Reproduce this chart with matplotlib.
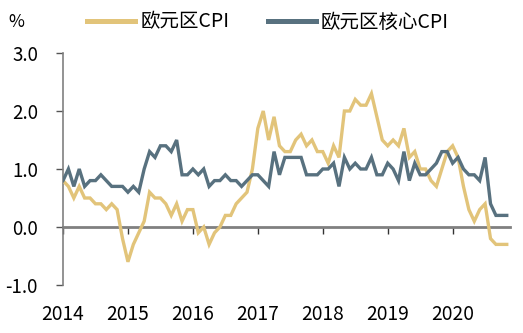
import matplotlib
matplotlib.use("Agg")
import matplotlib.pyplot as plt
import numpy as np
from matplotlib.lines import Line2D

plt.rcParams['font.family'] = ['Noto Sans CJK SC', 'DejaVu Sans']

years = ["2014", "2015", "2016", "2017", "2018", "2019", "2020"]
series_names = ["欧元区CPI", "欧元区核心CPI"]

# monthly values, Jan 2014 - Nov 2020
cpi = [0.8, 0.7, 0.5, 0.7, 0.5, 0.5, 0.4, 0.4, 0.3, 0.4, 0.3, -0.2,
       -0.6, -0.3, -0.1, 0.1, 0.6, 0.5, 0.5, 0.4, 0.2, 0.4, 0.1, 0.3,
       0.3, -0.1, 0.0, -0.3, -0.1, 0.0, 0.2, 0.2, 0.4, 0.5, 0.6, 1.0,
       1.7, 2.0, 1.5, 1.9, 1.4, 1.3, 1.3, 1.5, 1.6, 1.4, 1.5, 1.3,
       1.3, 1.1, 1.4, 1.2, 2.0, 2.0, 2.2, 2.1, 2.1, 2.3, 1.9, 1.5,
       1.4, 1.5, 1.4, 1.7, 1.2, 1.3, 1.0, 1.0, 0.8, 0.7, 1.0, 1.3,
       1.4, 1.2, 0.7, 0.3, 0.1, 0.3, 0.4, -0.2, -0.3, -0.3, -0.3]
core = [0.8, 1.0, 0.7, 1.0, 0.7, 0.8, 0.8, 0.9, 0.8, 0.7, 0.7, 0.7,
        0.6, 0.7, 0.6, 1.0, 1.3, 1.2, 1.4, 1.4, 1.3, 1.5, 0.9, 0.9,
        1.0, 0.9, 1.0, 0.7, 0.8, 0.8, 0.9, 0.8, 0.8, 0.7, 0.8, 0.9,
        0.9, 0.8, 0.7, 1.3, 0.9, 1.2, 1.2, 1.2, 1.2, 0.9, 0.9, 0.9,
        1.0, 1.0, 1.1, 0.7, 1.2, 1.0, 1.1, 1.0, 1.0, 1.2, 0.9, 0.9,
        1.1, 1.0, 0.8, 1.3, 0.8, 1.1, 0.9, 0.9, 1.0, 1.1, 1.3, 1.3,
        1.1, 1.2, 1.0, 0.9, 0.9, 0.8, 1.2, 0.4, 0.2, 0.2, 0.2]

gold = '#E2C47A'
blue = '#58717F'

fig = plt.figure(figsize=(5.23, 3.33), dpi=100)
ax = fig.add_axes([63/523, 1-285/333, (510-63)/523, 232/333])

x = np.arange(len(cpi))
ax.plot(x, cpi, color=gold, lw=2.4, solid_joinstyle='miter', zorder=3)
ax.plot(x, core, color=blue, lw=2.4, solid_joinstyle='miter', zorder=4)

ax.set_ylim(-1, 3)
ax.set_xlim(0, 82.6)
ax.set_yticks([-1, 0, 1, 2, 3])
ax.set_yticklabels(["-1.0", "0.0", "1.0", "2.0", "3.0"])

year_ticks = [12*i for i in range(len(years))]
ax.set_xticks(year_ticks)
ax.set_xticklabels(years)
ax.tick_params(axis='x', length=0, pad=13.5, labelsize=13.8)
ax.tick_params(axis='y', length=5, width=1, color='#555555', pad=13, labelsize=13.5, direction='out')

for s in ['top', 'right', 'bottom']:
    ax.spines[s].set_visible(False)
ax.spines['left'].set_color('#808080')
ax.spines['left'].set_linewidth(1.2)

sec = ax.secondary_xaxis(0.25)
sec.set_xticks(year_ticks)
sec.tick_params(direction='out', length=5, width=1, color='#333333', labelbottom=False)
sec.spines['bottom'].set_color('#808080')
sec.spines['bottom'].set_linewidth(2)

fig.text(8/523, 1-22/333, "%", fontsize=12.5, va='center', ha='left')

handles = [Line2D([], [], color=gold, lw=3.6), Line2D([], [], color=blue, lw=3.6)]
fig.legend(handles, series_names, loc='center left', bbox_to_anchor=(87/523, 1-22/333),
           ncol=2, frameon=False, fontsize=14, handlelength=2.47, handletextpad=0.26,
           columnspacing=2.0, borderpad=0, borderaxespad=0)

fig.savefig("out.png", dpi=100)
